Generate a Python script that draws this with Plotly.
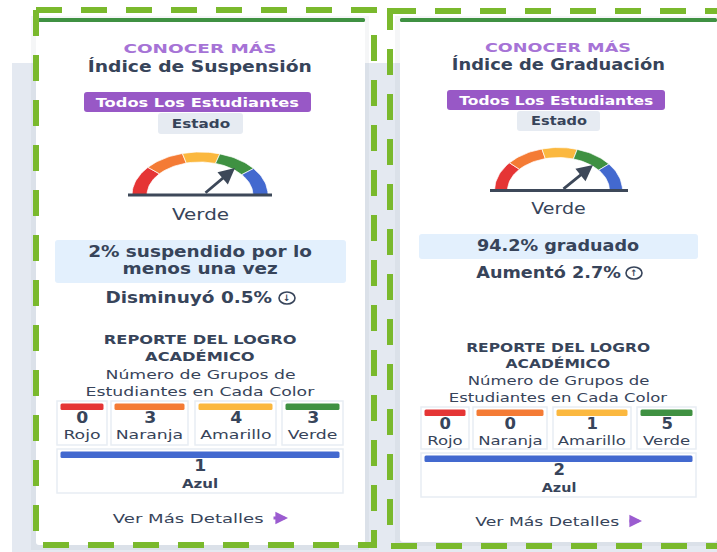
import json
import math
import plotly.graph_objects as go

# ---- data ----
heading = "CONOCER MÁS"
titles = ["Índice de Suspensión", "Índice de Graduación"]
badge_label = "Todos Los Estudiantes"
scope_label = "Estado"
status_label = "Verde"
metric_lines = [["2% suspendido por lo", "menos una vez"], ["94.2% graduado"]]
change_labels = ["Disminuyó 0.5%", "Aumentó 2.7%"]
report_lines = ["REPORTE DEL LOGRO", "ACADÉMICO"]
sub_lines = ["Número de Grupos de", "Estudiantes en Cada Color"]
group_names = ["Rojo", "Naranja", "Amarillo", "Verde", "Azul"]
group_colors = ["#E53535", "#F47B35", "#FBB83F", "#3F9142", "#4369CF"]
suspension_counts = [0, 3, 4, 3, 1]
graduation_counts = [0, 0, 1, 5, 2]
gauge_spans_deg = [40, 35, 32, 35, 38]
details_label = "Ver Más Detalles"

INK = "#37445A"
PURPLE = "#9858C6"
DASH = "#7AB92D"
FONT = "DejaVu Sans"

shapes, notes, traces, stretch = [], [], [], []
card_scale = [1.0]


def rect(x0, y0, x1, y1, fill, line=None, lw=1, r=0):
    if r:
        p = (f"M{x0+r},{y0} L{x1-r},{y0} Q{x1},{y0} {x1},{y0+r} L{x1},{y1-r} Q{x1},{y1} {x1-r},{y1} "
             f"L{x0+r},{y1} Q{x0},{y1} {x0},{y1-r} L{x0},{y0+r} Q{x0},{y0} {x0+r},{y0} Z")
        shapes.append(dict(type="path", path=p, fillcolor=fill, line=dict(color=line or fill, width=lw if line else 0), layer="below"))
    else:
        shapes.append(dict(type="rect", x0=x0, y0=y0, x1=x1, y1=y1, fillcolor=fill, line=dict(color=line or fill, width=lw if line else 0), layer="below"))


def text(x, y, s, size=13, color=INK, bold=False, k=1.0):
    notes.append(dict(x=x, y=y, text=f"<b>{s}</b>" if bold else s, showarrow=False, xanchor="center", yanchor="middle",
                      font=dict(family=FONT, size=size, color=color)))
    stretch.append(round(k * card_scale[0], 3))


def dashed(x0, y0, x1, y1):
    shapes.append(dict(type="line", x0=x0, y0=y0, x1=x1, y1=y1, layer="above",
                       line=dict(color=DASH, width=6, dash="26px,19px")))


def arrow(x0, y0, x1, y1, color, width, head=1, hsize=1.0):
    notes.append(dict(x=x1, y=y1, ax=x0, ay=y0, xref="x", yref="y", axref="x", ayref="y", text="", showarrow=True,
                      arrowhead=head, arrowwidth=width, arrowsize=hsize, arrowcolor=color))
    stretch.append(1)


def gauge(cx, by, a, b, ai, bi):
    start = 0
    for span, color in zip(gauge_spans_deg, group_colors):
        angs = [start + span * i / 16 for i in range(17)]
        xs = [cx - a * math.cos(math.radians(t)) for t in angs] + [cx - ai * math.cos(math.radians(t)) for t in reversed(angs)]
        ys = [by - b * math.sin(math.radians(t)) for t in angs] + [by - bi * math.sin(math.radians(t)) for t in reversed(angs)]
        traces.append(go.Scatter(x=xs + xs[:1], y=ys + ys[:1], mode="lines", fill="toself", fillcolor=color,
                                 line=dict(color="white", width=0.7), hoverinfo="skip", showlegend=False))
        start += span


def card(cfg, counts, title, metric, change, icon_up):
    cx = cfg["cx"]
    card_scale[0] = cfg["scale"]
    rect(cfg["card"][0], 18, cfg["card"][1], cfg["card"][2], "white", r=3)
    rect(cfg["card"][0], 18, cfg["card"][1], 22, "#3F9142", r=1.5)
    text(cx, cfg["y_head"], heading, 13, "#A673D6", True, 1.42)
    text(cx, cfg["y_title"], title, 16, INK, True, 1.17)
    bx = cfg["badge"]
    rect(bx[0], bx[1], bx[2], bx[3], PURPLE, r=3)
    text((bx[0] + bx[2]) / 2, (bx[1] + bx[3]) / 2, badge_label, 13, "white", True, 1.25)
    ex = cfg["scope"]
    rect(ex[0], ex[1], ex[2], ex[3], "#E6EBF2", r=3)
    text((ex[0] + ex[2]) / 2, (ex[1] + ex[3]) / 2, scope_label, 12, INK, True, 1.27)
    gauge(*cfg["gauge"])
    g = cfg["base"]
    shapes.append(dict(type="line", x0=g[0], x1=g[1], y0=g[2], y1=g[2], line=dict(color="#3D4859", width=3), layer="above"))
    n = cfg["needle"]
    arrow(n[0], n[1], n[2], n[3], "#3D4859", 2.8, 2, 1.15)
    text(cx, cfg["y_status"], status_label, 15, INK, False, 1.33)
    mb = cfg["metric_box"]
    rect(mb[0], mb[1], mb[2], mb[3], "#E3F0FD", r=3)
    for line, y in zip(metric, cfg["y_metric"]):
        text(cx, y, line, 15, INK, True, 1.23)
    text(cfg["x_change"], cfg["y_change"], change, 15, INK, True, 1.23)
    ix, iy = cfg["icon"], cfg["y_change"]
    shapes.append(dict(type="circle", x0=ix - 8, x1=ix + 8, y0=iy - 6, y1=iy + 6, line=dict(color=INK, width=1.6), fillcolor="white", layer="above"))
    text(ix, iy - 0.5, "↑" if icon_up else "↓", 9, INK, True)
    for line, y in zip(report_lines, cfg["y_report"]):
        text(cx, y, line, 13, INK, True, 1.25)
    for line, y in zip(sub_lines, cfg["y_sub"]):
        text(cx, y, line, 13, INK, False, 1.33)
    y0, y1 = cfg["row1"]
    for i in range(4):
        x0, x1 = cfg["cells"][i]
        rect(x0, y0, x1, y1, "white", "#E8EDF3", 1.5)
        rect(x0 + 3.5, y0 + 2.5, x1 - 3.5, y0 + 9, group_colors[i], r=1.5)
        text((x0 + x1) / 2, y0 + 17, str(counts[i]), 15, INK, True, 1.15)
        text((x0 + x1) / 2, y0 + 33, group_names[i], 13, INK, False, 1.33)
    y0, y1 = cfg["row2"]
    x0, x1 = cfg["cell_wide"]
    rect(x0, y0, x1, y1, "white", "#E8EDF3", 1.5)
    rect(x0 + 3.5, y0 + 2.5, x1 - 3.5, y0 + 9, group_colors[4], r=1.5)
    text((x0 + x1) / 2, y0 + 17, str(counts[4]), 15, INK, True, 1.15)
    text((x0 + x1) / 2, y0 + 34, group_names[4], 12.5, INK, True, 1.2)
    d = cfg["details"]
    text(d[0], d[1], details_label, 13, INK, False, 1.39)
    arrow(d[2], d[1], d[3], d[1], "#9B5CD0", 2.8, 2, 0.9)


# page background
rect(12, 63, 717, 552, "#E4E9F1")
rect(31, 16, 369, 550, "rgba(60,70,90,0.05)")
rect(395, 16, 717, 546, "rgba(60,70,90,0.05)")

card(dict(scale=1.0, cx=200, card=(36, 365, 545), y_head=48, y_title=66, badge=(84, 92, 311, 112), scope=(158, 113, 243, 134),
          gauge=(200, 195, 68, 43, 53, 33), base=(128, 272, 195), needle=(204, 194, 235, 168), y_status=215,
          metric_box=(55, 240, 346, 283), y_metric=[252, 269], x_change=189, y_change=298, icon=287,
          y_report=[339, 356.5], y_sub=[374, 391], row1=(401, 445),
          cells=[(57, 107), (111, 188), (195, 276), (282, 343)], row2=(449, 493), cell_wide=(57, 343),
          details=(188, 518, 272, 288)),
     suspension_counts, titles[0], metric_lines[0], change_labels[0], False)

card(dict(scale=0.955, cx=558, card=(400, 717, 542), y_head=47, y_title=64, badge=(447, 90, 665, 110), scope=(517, 111, 600, 131),
          gauge=(558.5, 190.5, 64, 43, 51, 33), base=(490, 628, 190.5), needle=(562, 190, 593, 165), y_status=209,
          metric_box=(419, 234, 698, 259), y_metric=[246], x_change=548, y_change=273, icon=634,
          y_report=[347, 363], y_sub=[380, 397], row1=(407, 449),
          cells=[(421, 469), (473, 547), (553, 631), (637, 696)], row2=(453, 497), cell_wide=(421, 696),
          details=(547, 521, 628, 642)),
     graduation_counts, titles[1], metric_lines[1], change_labels[1], True)

# dashed outlines
dashed(36, 10, 36, 533)
dashed(36, 10, 377, 10)
dashed(374, 35, 374, 548)
dashed(43, 545, 377, 545)
dashed(390, 525, 390, 8)
dashed(390, 11, 717, 11)
dashed(391, 546, 717, 546)

fig = go.Figure(traces)
fig.update_layout(width=717, height=552, margin=dict(l=0, r=0, t=0, b=0), autosize=False,
                  paper_bgcolor="white", plot_bgcolor="white", showlegend=False,
                  shapes=shapes, annotations=notes,
                  xaxis=dict(range=[0, 717], visible=False, fixedrange=True),
                  yaxis=dict(range=[552, 0], visible=False, fixedrange=True))

# The reference is a horizontally stretched screenshot: widen each label's glyphs and drop the page margin.
post = """
document.body.style.margin = '0';
document.body.style.overflow = 'hidden';
var K = %s;
document.querySelectorAll('g.annotation').forEach(function (g) {
  var k = K[+g.getAttribute('data-index')];
  var t = g.querySelector('text.annotation-text');
  if (!t || !k || k === 1 || !t.textContent) return;
  var b = t.getBBox(), c = b.x + b.width / 2;
  t.setAttribute('transform', 'translate(' + c + ' 0) scale(' + k + ' 1) translate(' + (-c) + ' 0)');
});
""" % json.dumps(stretch)
fig.write_html("out.html", config=dict(displayModeBar=False), post_script=post)
